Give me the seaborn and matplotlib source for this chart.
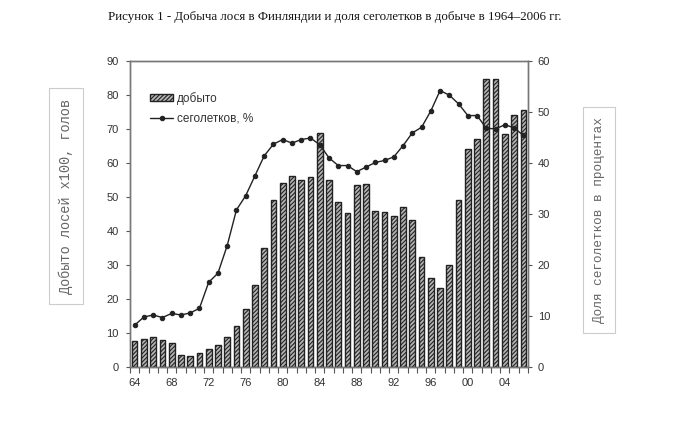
import numpy as np
import pandas as pd
import matplotlib
matplotlib.use("Agg")
import matplotlib.pyplot as plt
import seaborn as sns
from matplotlib.ticker import FixedLocator, FixedFormatter

# ---- data ----
years = list(range(1964, 2007))
harvest = [7.6, 8.3, 8.8, 7.9, 7.2, 3.6, 3.2, 4.2, 5.2, 6.6,
           8.8, 12.2, 17.1, 24.1, 34.9, 49.1, 54.1, 56.3, 55.0, 55.9,
           68.9, 55.0, 48.4, 45.4, 53.5, 53.7, 45.8, 45.5, 44.5, 47.2,
           43.2, 32.3, 26.1, 23.1, 30.0, 49.2, 64.0, 67.1, 84.6, 84.6,
           68.5, 74.2, 75.7]
calves = [8.2, 9.8, 10.2, 9.7, 10.5, 10.2, 10.6, 11.5, 16.6, 18.4,
          23.8, 30.8, 33.6, 37.5, 41.4, 43.7, 44.6, 43.9, 44.6, 44.9,
          43.6, 41.0, 39.5, 39.5, 38.3, 39.2, 40.1, 40.5, 41.2, 43.4,
          45.9, 47.0, 50.2, 54.2, 53.3, 51.6, 49.3, 49.3, 46.8, 46.7,
          47.5, 46.9, 45.4]
label_years = list(range(1964, 2005, 4))
label_texts = ["64", "68", "72", "76", "80", "84", "88", "92", "96", "00", "04"]
left_ticks = list(range(0, 91, 10))
right_ticks = list(range(0, 61, 10))

title = "Рисунок 1 - Добыча лося в Финляндии и доля сеголетков в добыче в 1964–2006 гг."
ylabel_left = "Добыто лосей x100, голов"
ylabel_right = "Доля сеголетков в процентах"
bar_label = "добыто"
line_label = "сеголетков, %"

df = pd.DataFrame({"year": years, "harvest": harvest, "calves": calves})

sns.set_style("ticks")
plt.rcParams["font.family"] = ["Liberation Sans", "DejaVu Sans"]
plt.rcParams["hatch.color"] = "#2a2a2a"
plt.rcParams["hatch.linewidth"] = 0.8

fig = plt.figure(figsize=(6.75, 4.22), dpi=100)
ax = fig.add_axes([130 / 675, 1 - 367 / 422, 398 / 675, 306 / 422])

sns.barplot(data=df, x="year", y="harvest", native_scale=True, width=0.62,
            color="#a8a8a8", edgecolor="#222222", linewidth=1.0,
            ax=ax, label=bar_label, saturation=1)
for p in ax.patches:
    p.set_hatch("////////")
    p.set_facecolor("#b5b5b5")
    p.set_edgecolor("#222222")

ax2 = ax.twinx()
sns.lineplot(data=df, x="year", y="calves", ax=ax2, color="#222222",
             marker="o", markersize=3.2, markeredgecolor="#222222",
             linewidth=1.0, label=line_label)

ax.set_xlim(1963.5, 2006.5)
ax.set_ylim(0, 90)
ax2.set_ylim(0, 60)

ax.xaxis.set_major_locator(FixedLocator(label_years))
ax.xaxis.set_major_formatter(FixedFormatter(label_texts))
ax.xaxis.set_minor_locator(FixedLocator(np.arange(1963.5, 2007, 1)))
ax.tick_params(axis="x", which="major", length=0, pad=8, labelsize=8, labelcolor="#333333")
ax.tick_params(axis="x", which="minor", length=4, width=0.8, color="#555555", direction="out")
ax.set_yticks(left_ticks)
ax.tick_params(axis="y", length=3, width=0.8, color="#555555", pad=5, labelsize=8, labelcolor="#333333")
ax2.set_yticks(right_ticks)
ax2.tick_params(axis="y", length=3, width=0.8, color="#555555", pad=4, labelsize=8, labelcolor="#333333")
ax.set_xlabel("")
ax.set_ylabel("")
ax2.set_ylabel("")

for a in (ax, ax2):
    for s in a.spines.values():
        s.set_visible(True)
        s.set_color("#777777")
        s.set_linewidth(1.0)
ax.spines["bottom"].set_color("#444444")

if ax.get_legend() is not None:
    ax.get_legend().remove()
h1, l1 = ax.get_legend_handles_labels()
h2, l2 = ax2.get_legend_handles_labels()
ax2.legend(h1 + h2, l1 + l2, loc="upper left", bbox_to_anchor=(0.038, 0.915),
           frameon=False, fontsize=8.5, handlelength=2.0, handleheight=0.5,
           handletextpad=0.3, labelspacing=0.7, labelcolor="#333333", borderaxespad=0)

fig.text(335 / 675, 1 - 17 / 422, title, ha="center", va="center",
         family=["Liberation Serif", "DejaVu Serif"], fontsize=9.3, color="#111111")

box = dict(boxstyle="square,pad=0.75", fc="white", ec="#cccccc", lw=0.8)
fig.text(66 / 675, 1 - 196 / 422, ylabel_left, rotation=90, ha="center", va="center",
         family=["Liberation Mono", "DejaVu Sans Mono"], fontsize=9.8, color="#666666", bbox=box)
fig.text(599 / 675, 1 - 220 / 422, ylabel_right, rotation=90, ha="center", va="center",
         family=["Liberation Mono", "DejaVu Sans Mono"], fontsize=9.2, color="#666666", bbox=box)

fig.savefig("out.png", dpi=100)
